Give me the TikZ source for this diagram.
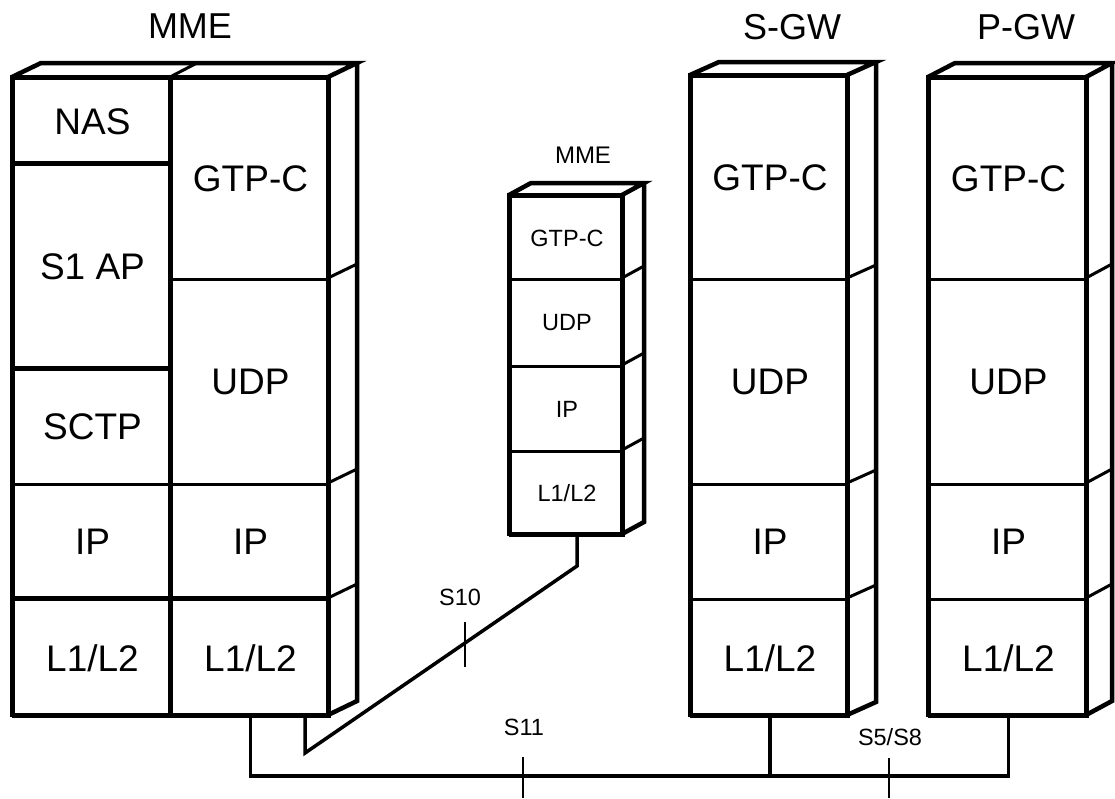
\documentclass[tikz,border=0pt]{standalone}
\usepackage{fontspec}
\setmainfont{Liberation Sans}
\begin{document}
\begin{tikzpicture}[x=1pt,y=-1pt,
  layer/.style={draw, line width=3pt, inner sep=0pt, anchor=north west, font=\fontsize{37}{42}\selectfont},
  slayer/.style={layer, font=\fontsize{23.5}{28}\selectfont},
  outer/.style={line width=4.5pt, line join=miter},
  thk/.style={line width=4.5pt},
  conn/.style={line width=3.5pt, line join=miter},
  tickmark/.style={line width=2pt},
  title/.style={font=\fontsize{36}{42}\selectfont},
  stitle/.style={font=\fontsize{24}{28}\selectfont},
  lbl/.style={font=\fontsize{23.5}{28}\selectfont}]
\useasboundingbox (0,0) rectangle (1115,798);

% ---------- big MME ----------
\node[layer, minimum width=158pt, minimum height=86pt]  (mnas)  at (12,77)  {NAS};
\node[layer, minimum width=158pt, minimum height=205pt] (ms1)   at (12,163) {S1 AP};
\node[layer, minimum width=158pt, minimum height=115pt] (msctp) at (12,368) {SCTP};
\node[layer, minimum width=158pt, minimum height=115pt] (mipl)  at (12,483) {IP};
\node[layer, minimum width=158pt, minimum height=117pt] (ml1l)  at (12,598) {L1/L2};
\node[layer, minimum width=158pt, minimum height=201pt] (mgtp)  at (170,77) {GTP-C};
\node[layer, minimum width=158pt, minimum height=205pt] (mudp)  at (170,278) {UDP};
\node[layer, minimum width=158pt, minimum height=115pt] (mipr)  at (170,483) {IP};
\node[layer, minimum width=158pt, minimum height=117pt] (ml1r)  at (170,598) {L1/L2};
\draw[outer] (12,77) rectangle (328,715);
\draw[thk] (12,163) -- (170,163) (12,368) -- (170,368) (12,598) -- (328,598) (170,77) -- (170,715);
\draw[outer] (12,77) -- (41,63) -- (357,63) -- (328,77);
\draw[outer] (357,63) -- (357,701) -- (328,715);
\draw[line width=3pt] (170,77) -- (197,63);
\draw[line width=3pt] (328,278) -- (357,264) (328,483) -- (357,469) (328,598) -- (357,584);
\node[title] (tmme) at (190,26) {MME};

% ---------- small MME ----------
\node[slayer, minimum width=113pt, minimum height=83pt] (xgtp) at (509,195) {GTP-C};
\node[slayer, minimum width=113pt, minimum height=87pt] (xudp) at (509,278) {UDP};
\node[slayer, minimum width=113pt, minimum height=85pt] (xip)  at (509,365) {IP};
\node[slayer, minimum width=113pt, minimum height=84pt] (xl1)  at (509,450) {L1/L2};
\draw[outer] (509,195) rectangle (622,534);
\draw[outer] (509,195) -- (531,183) -- (644,183) -- (622,195);
\draw[outer] (644,183) -- (644,522) -- (622,534);
\draw[line width=3pt] (622,278) -- (644,266) (622,365) -- (644,353) (622,450) -- (644,438);
\node[stitle] (txme) at (583,155) {MME};

% ---------- S-GW ----------
\node[layer, minimum width=157pt, minimum height=203pt] (sgtp) at (690,75)  {GTP-C};
\node[layer, minimum width=157pt, minimum height=205pt] (sudp) at (690,278) {UDP};
\node[layer, minimum width=157pt, minimum height=115pt] (sip)  at (690,483) {IP};
\node[layer, minimum width=157pt, minimum height=117pt] (sl1)  at (690,598) {L1/L2};
\draw[outer] (690,75) rectangle (847,715);
\draw[outer] (690,75) -- (719,62) -- (876,62) -- (847,75);
\draw[outer] (876,62) -- (876,702) -- (847,715);
\draw[line width=3pt] (847,278) -- (876,265) (847,483) -- (876,470) (847,598) -- (876,585);
\node[title] (tsgw) at (792,27) {S-GW};

% ---------- P-GW ----------
\node[layer, minimum width=158pt, minimum height=201pt] (pgtp) at (928,77)  {GTP-C};
\node[layer, minimum width=158pt, minimum height=205pt] (pudp) at (928,278) {UDP};
\node[layer, minimum width=158pt, minimum height=115pt] (pip)  at (928,483) {IP};
\node[layer, minimum width=158pt, minimum height=117pt] (pl1)  at (928,598) {L1/L2};
\draw[outer] (928,77) rectangle (1086,715);
\draw[outer] (928,77) -- (955,63) -- (1112,63) -- (1086,77);
\draw[outer] (1112,63) -- (1112,701) -- (1086,715);
\draw[line width=3pt] (1086,278) -- (1112,264) (1086,483) -- (1112,469) (1086,598) -- (1112,584);
\node[title] (tpgw) at (1026,27) {P-GW};

% ---------- connectors ----------
\coordinate (s10a) at (305,753);
\coordinate (s10b) at (577,566);
\coordinate (bus) at (0,776);
\draw[conn] (ml1r.south -| s10a) -- (s10a) -- (s10b) -- (xl1.south -| s10b);
\draw[conn] (ml1r.south) -- (ml1r.south |- bus) -- (pl1.south |- bus) -- (pl1.south);
\draw[conn] (sl1.south) -- (sl1.south |- bus);

\draw[tickmark] (465,622) -- (465,667);
\draw[tickmark] (523,757) -- (523,798);
\draw[tickmark] (889,758) -- (889,798);

\node[lbl] (ls10) at (460,597) {S10};
\node[lbl] (ls11) at (524,727) {S11};
\node[lbl] (ls58) at (890,737) {S5/S8};
\end{tikzpicture}
\end{document}
